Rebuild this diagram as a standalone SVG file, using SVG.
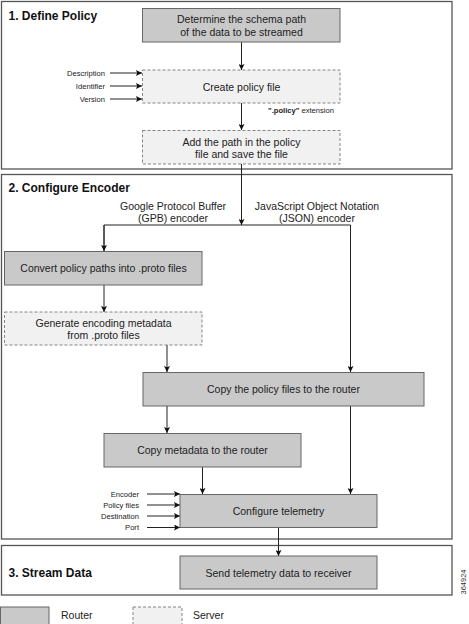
<svg xmlns="http://www.w3.org/2000/svg" width="469" height="624" viewBox="0 0 469 624">
<defs>
<style>
.sec{fill:#fff;stroke:#555;stroke-width:1.3}
.router{fill:#c9c9c9;stroke:#666;stroke-width:1}
.server{fill:#f1f1f1;stroke:#777;stroke-width:0.9;stroke-dasharray:3 2}
.t{font-family:"Liberation Sans",Arial,sans-serif;font-size:10.5px;fill:#222;text-anchor:middle}
.h{font-family:"Liberation Sans",Arial,sans-serif;font-size:12px;font-weight:bold;fill:#111}
.s{font-family:"Liberation Sans",Arial,sans-serif;font-size:7.6px;fill:#222;text-anchor:end}
.l{font-family:"Liberation Sans",Arial,sans-serif;font-size:10.5px;fill:#222}
.c{fill:none;stroke:#222;stroke-width:1}
</style>
<marker id="ah" viewBox="0 0 10 10" refX="10" refY="5" markerWidth="8" markerHeight="6" markerUnits="userSpaceOnUse" orient="auto">
<path d="M0,0 L10,5 L0,10 L2,5 Z" fill="#111"/>
</marker>
</defs>
<rect width="469" height="624" fill="#fff"/>

<g id="section1">
<rect class="sec" x="1.5" y="1.5" width="450.5" height="167.5"/>
<text class="h" x="8.5" y="19.5">1. Define Policy</text>
</g>
<g id="section2">
<rect class="sec" x="1.5" y="174.5" width="450.5" height="364.5"/>
<text class="h" x="8.5" y="191.5">2. Configure Encoder</text>
</g>
<g id="section3">
<rect class="sec" x="1.5" y="545.5" width="450.5" height="49.5"/>
<text class="h" x="8.5" y="576.5">3. Stream Data</text>
</g>

<g id="connectors">
<line class="c" x1="241.5" y1="42" x2="241.5" y2="70" marker-end="url(#ah)"/>
<line class="c" x1="241.5" y1="103" x2="241.5" y2="130" marker-end="url(#ah)"/>
<line class="c" x1="241.5" y1="164" x2="241.5" y2="225" marker-end="url(#ah)"/>
<polyline class="c" points="104,251 104,225 350.5,225 350.5,372" marker-end="url(#ah)"/>
<line class="c" x1="104" y1="225" x2="104" y2="251" marker-end="url(#ah)"/>
<line class="c" x1="104" y1="285" x2="104" y2="312" marker-end="url(#ah)"/>
<line class="c" x1="167" y1="345" x2="167" y2="372" marker-end="url(#ah)"/>
<line class="c" x1="167" y1="406" x2="167" y2="433" marker-end="url(#ah)"/>
<line class="c" x1="202.5" y1="467" x2="202.5" y2="494" marker-end="url(#ah)"/>
<line class="c" x1="350.5" y1="406" x2="350.5" y2="494" marker-end="url(#ah)"/>
<line class="c" x1="278.5" y1="528" x2="278.5" y2="556" marker-end="url(#ah)"/>
<line class="c" x1="110" y1="73" x2="142" y2="73" marker-end="url(#ah)"/>
<line class="c" x1="110" y1="86" x2="142" y2="86" marker-end="url(#ah)"/>
<line class="c" x1="110" y1="99" x2="142" y2="99" marker-end="url(#ah)"/>
<line class="c" x1="147" y1="494" x2="180" y2="494" marker-end="url(#ah)"/>
<line class="c" x1="147" y1="505" x2="180" y2="505" marker-end="url(#ah)"/>
<line class="c" x1="147" y1="516" x2="180" y2="516" marker-end="url(#ah)"/>
<line class="c" x1="147" y1="527.5" x2="180" y2="527.5" marker-end="url(#ah)"/>
</g>

<g id="labels">
<text class="s" x="105" y="75.7">Description</text>
<text class="s" x="105" y="88.7">Identifier</text>
<text class="s" x="105" y="101.7">Version</text>
<text class="s" x="334" y="112.5"><tspan font-weight="bold">".policy"</tspan> extension</text>
<text class="t" x="173" y="209.5">Google Protocol Buffer</text>
<text class="t" x="173" y="222">(GPB) encoder</text>
<text class="t" x="317" y="209.5">JavaScript Object Notation</text>
<text class="t" x="317" y="222">(JSON) encoder</text>
<text class="s" x="139" y="496.7">Encoder</text>
<text class="s" x="139" y="507.7">Policy files</text>
<text class="s" x="139" y="518.7">Destination</text>
<text class="s" x="139" y="530.2">Port</text>
</g>

<g id="n-determine">
<rect class="router" x="142.5" y="8.5" width="197.5" height="33.5"/>
<text class="t" x="241.5" y="22.5">Determine the schema path</text>
<text class="t" x="241.5" y="35.5">of the data to be streamed</text>
</g>
<g id="n-create">
<rect class="server" x="142.5" y="70" width="197.5" height="33"/>
<text class="t" x="241.5" y="90.5">Create policy file</text>
</g>
<g id="n-addpath">
<rect class="server" x="142.5" y="130.5" width="197.5" height="33.5"/>
<text class="t" x="241.5" y="145.5">Add the path in the policy</text>
<text class="t" x="241.5" y="158">file and save the file</text>
</g>
<g id="n-convert">
<rect class="router" x="4.5" y="251.5" width="197.5" height="33.5"/>
<text class="t" x="103.5" y="272">Convert policy paths into .proto files</text>
</g>
<g id="n-generate">
<rect class="server" x="4.5" y="312" width="197.5" height="33"/>
<text class="t" x="103.5" y="327">Generate encoding metadata</text>
<text class="t" x="103.5" y="339">from .proto files</text>
</g>
<g id="n-copypolicy">
<rect class="router" x="143" y="372.5" width="281" height="33.5"/>
<text class="t" x="283.5" y="393">Copy the policy files to the router</text>
</g>
<g id="n-copymeta">
<rect class="router" x="104" y="433.5" width="197" height="33.5"/>
<text class="t" x="202.5" y="454">Copy metadata to the router</text>
</g>
<g id="n-configure">
<rect class="router" x="180" y="494.5" width="197" height="33"/>
<text class="t" x="278.5" y="514.5">Configure telemetry</text>
</g>
<g id="n-send">
<rect class="router" x="180" y="556" width="197" height="33"/>
<text class="t" x="278.5" y="576.5">Send telemetry data to receiver</text>
</g>

<g id="legend">
<rect class="router" x="0.5" y="607" width="48.5" height="20"/>
<text class="l" x="61" y="619">Router</text>
<rect class="server" x="133" y="607" width="49" height="20"/>
<text class="l" x="193" y="619">Server</text>
</g>
<text x="463" y="582" transform="rotate(-90 463 582)" font-family="Liberation Sans,Arial,sans-serif" font-size="7.5" fill="#333" text-anchor="middle" dominant-baseline="central">364924</text>
</svg>
